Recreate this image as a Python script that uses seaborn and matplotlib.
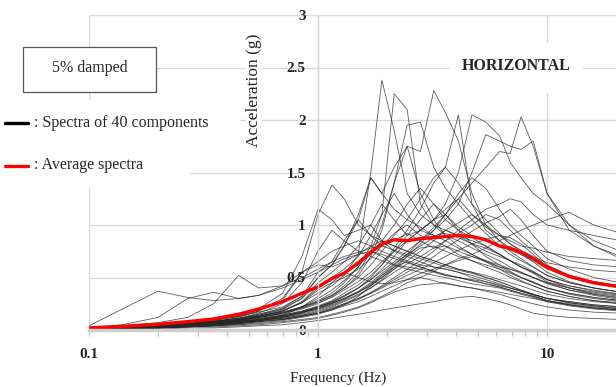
import matplotlib
matplotlib.use("Agg")
import matplotlib.pyplot as plt
from matplotlib.lines import Line2D
from matplotlib.patches import Rectangle
from matplotlib.ticker import FixedLocator, NullFormatter
import numpy as np
import pandas as pd
import seaborn as sns

# Frequency grid (Hz) shared by all response spectra
freq_hz = [0.1, 0.14, 0.2, 0.27, 0.35, 0.45, 0.55, 0.7, 0.85, 1.0, 1.15, 1.3, 1.5, 1.7, 1.9,
           2.15, 2.45, 2.8, 3.2, 3.6, 4.1, 4.7, 5.4, 6.2, 6.9, 7.7, 8.7, 10, 12.5, 16, 21]

# Spectral acceleration (g) of the 40 horizontal components, 5% damping
component_spectra = [
    [0.02,0.03,0.04,0.06,0.08,0.11,0.14,0.19,0.26, 0.35,0.42,0.52,0.72,1.50,2.38,1.90,1.30,1.10,1.00,0.95,0.90,0.85,0.80,0.72,0.66,0.60,0.55,0.48,0.40,0.34,0.30],
    [0.02,0.03,0.04,0.05,0.07,0.10,0.13,0.17,0.22, 0.28,0.35,0.45,0.60,0.80,1.10,2.25,2.10,1.20,1.00,0.90,0.85,0.78,0.72,0.66,0.60,0.55,0.50,0.45,0.38,0.33,0.29],
    [0.01,0.02,0.03,0.05,0.07,0.09,0.12,0.16,0.21, 0.27,0.33,0.42,0.55,0.75,1.00,1.40,1.75,1.70,2.28,2.07,1.80,1.30,1.00,0.85,0.78,0.72,0.65,0.55,0.46,0.40,0.36],
    [0.01,0.02,0.03,0.04,0.06,0.08,0.10,0.13,0.17, 0.22,0.27,0.32,0.40,0.48,0.58,0.70,0.85,0.95,1.05,1.20,1.50,2.05,1.98,1.85,1.60,1.45,1.30,1.20,1.00,0.85,0.75],
    [0.01,0.02,0.03,0.04,0.05,0.07,0.09,0.11,0.14, 0.18,0.22,0.27,0.33,0.40,0.48,0.58,0.70,0.82,0.95,1.10,1.25,1.40,1.55,1.70,1.68,2.03,1.75,1.30,1.00,0.80,0.68],
    [0.02,0.03,0.04,0.05,0.07,0.10,0.13,0.17,0.22, 0.27,0.33,0.40,0.50,0.62,0.75,0.90,1.05,1.25,1.45,1.55,2.05,1.20,0.95,0.85,0.75,0.68,0.60,0.52,0.45,0.40,0.36],
    [0.02,0.03,0.05,0.07,0.10,0.13,0.17,0.22,0.32, 0.50,0.62,0.80,1.05,1.45,1.30,1.55,1.75,1.30,1.05,0.90,0.80,0.72,0.65,0.58,0.52,0.47,0.42,0.37,0.32,0.28,0.25],
    [0.01,0.02,0.03,0.05,0.07,0.09,0.12,0.15,0.20, 0.25,0.32,0.40,0.52,0.70,0.95,1.40,1.95,1.98,1.55,1.35,1.20,1.05,0.92,0.80,0.72,0.66,0.60,0.52,0.45,0.40,0.36],
    [0.02,0.03,0.04,0.05,0.07,0.09,0.11,0.14,0.18, 0.22,0.27,0.33,0.40,0.48,0.56,0.65,0.75,0.85,0.95,1.05,1.20,1.50,1.86,1.80,1.75,1.72,1.80,1.30,0.95,0.80,0.70],
    [0.02,0.03,0.04,0.06,0.09,0.13,0.18,0.28,0.55, 1.10,1.38,1.25,1.00,0.90,0.85,0.80,0.75,0.70,0.66,0.62,0.58,0.55,0.50,0.46,0.42,0.38,0.34,0.30,0.26,0.23,0.20],
    [0.02,0.03,0.04,0.06,0.08,0.11,0.15,0.20,0.30, 0.50,0.62,0.80,1.10,1.45,1.30,1.15,1.05,0.98,0.90,0.85,0.78,0.72,0.66,0.60,0.55,0.50,0.45,0.40,0.34,0.30,0.27],
    [0.01,0.02,0.03,0.04,0.06,0.08,0.10,0.13,0.17, 0.21,0.26,0.32,0.40,0.50,0.62,0.78,0.95,1.15,1.40,1.55,1.40,1.20,1.05,0.92,0.82,0.75,0.68,0.60,0.52,0.46,0.42],
    [0.01,0.02,0.03,0.04,0.06,0.08,0.10,0.13,0.17, 0.20,0.24,0.29,0.36,0.44,0.52,0.62,0.72,0.85,0.98,1.10,1.30,1.45,1.35,1.15,1.00,0.90,0.80,0.68,0.58,0.50,0.45],
    [0.02,0.03,0.04,0.05,0.07,0.10,0.13,0.18,0.26, 0.40,0.48,0.55,0.62,0.72,0.85,1.00,1.20,1.35,1.20,1.05,0.95,0.88,0.80,0.72,0.66,0.60,0.55,0.48,0.42,0.38,0.34],
    [0.01,0.01,0.02,0.03,0.04,0.05,0.06,0.08,0.10, 0.12,0.15,0.18,0.22,0.27,0.32,0.38,0.45,0.50,0.56,0.62,0.68,0.72,0.78,0.85,0.90,0.95,1.00,1.05,1.12,1.00,0.92],
    [0.01,0.02,0.03,0.04,0.05,0.06,0.08,0.10,0.13, 0.16,0.20,0.25,0.30,0.36,0.42,0.50,0.58,0.66,0.75,0.85,0.95,1.05,1.15,1.20,1.25,1.22,1.10,1.00,0.95,0.90,0.85],
    [0.02,0.03,0.04,0.05,0.07,0.09,0.12,0.16,0.21, 0.26,0.31,0.38,0.46,0.55,0.65,0.75,0.85,0.95,1.05,1.15,1.25,1.10,0.98,0.90,0.85,0.80,0.78,0.74,0.70,0.68,0.66],
    [0.02,0.03,0.04,0.06,0.08,0.11,0.14,0.20,0.30, 0.45,0.55,0.65,0.80,1.00,1.20,1.05,0.90,0.95,1.05,1.10,0.95,0.82,0.70,0.62,0.56,0.50,0.45,0.40,0.35,0.31,0.28],
    [0.01,0.02,0.03,0.04,0.05,0.07,0.09,0.12,0.15, 0.19,0.23,0.28,0.34,0.40,0.47,0.55,0.63,0.70,0.78,0.85,0.92,1.00,1.10,1.05,0.95,0.85,0.75,0.62,0.52,0.45,0.41],
    [0.02,0.03,0.04,0.06,0.09,0.13,0.20,0.35,0.70, 1.15,1.05,0.90,0.95,1.00,0.85,0.75,0.70,0.65,0.60,0.58,0.55,0.50,0.46,0.42,0.40,0.37,0.34,0.30,0.26,0.23,0.21],
    [0.02,0.03,0.04,0.05,0.07,0.10,0.13,0.18,0.26, 0.38,0.45,0.50,0.58,0.68,0.80,0.92,1.00,0.90,0.85,0.80,0.75,0.70,0.66,0.62,0.58,0.54,0.50,0.45,0.40,0.36,0.33],
    [0.01,0.02,0.03,0.04,0.06,0.08,0.10,0.13,0.17, 0.21,0.25,0.30,0.36,0.42,0.50,0.58,0.66,0.75,0.85,0.95,0.90,0.82,0.75,0.70,0.66,0.62,0.56,0.48,0.42,0.37,0.34],
    [0.01,0.02,0.03,0.04,0.05,0.07,0.09,0.11,0.14, 0.17,0.21,0.25,0.30,0.35,0.40,0.46,0.52,0.58,0.64,0.70,0.76,0.82,0.86,0.90,0.88,0.82,0.72,0.60,0.52,0.46,0.42],
    [0.02,0.04,0.07,0.12,0.25,0.52,0.40,0.42,0.55, 0.65,0.75,0.80,0.85,0.80,0.75,0.70,0.66,0.62,0.60,0.58,0.55,0.52,0.48,0.44,0.40,0.37,0.34,0.30,0.27,0.24,0.22],
    [0.04,0.20,0.37,0.31,0.28,0.30,0.33,0.40,0.48, 0.55,0.62,0.68,0.72,0.75,0.72,0.68,0.64,0.60,0.56,0.53,0.50,0.47,0.44,0.41,0.38,0.35,0.32,0.28,0.25,0.22,0.20],
    [0.02,0.05,0.12,0.30,0.36,0.30,0.33,0.42,0.50, 0.58,0.65,0.70,0.74,0.78,0.80,0.76,0.72,0.68,0.64,0.60,0.57,0.54,0.50,0.46,0.42,0.38,0.34,0.30,0.27,0.24,0.22],
    [0.01,0.02,0.03,0.04,0.05,0.07,0.09,0.12,0.16, 0.22,0.26,0.30,0.36,0.43,0.50,0.60,0.70,0.78,0.80,0.75,0.70,0.66,0.62,0.58,0.54,0.50,0.46,0.40,0.35,0.31,0.28],
    [0.01,0.02,0.03,0.05,0.07,0.09,0.12,0.16,0.22, 0.30,0.38,0.47,0.60,0.75,0.70,0.62,0.58,0.55,0.52,0.50,0.47,0.44,0.42,0.40,0.37,0.34,0.31,0.27,0.23,0.20,0.18],
    [0.01,0.02,0.02,0.03,0.04,0.06,0.08,0.10,0.13, 0.16,0.19,0.23,0.27,0.32,0.37,0.42,0.48,0.54,0.58,0.62,0.66,0.70,0.65,0.60,0.58,0.55,0.50,0.44,0.38,0.34,0.31],
    [0.01,0.01,0.02,0.03,0.04,0.05,0.07,0.09,0.12, 0.15,0.19,0.24,0.32,0.42,0.52,0.60,0.65,0.60,0.56,0.52,0.50,0.48,0.46,0.43,0.40,0.37,0.33,0.28,0.24,0.21,0.19],
    [0.01,0.01,0.01,0.02,0.02,0.03,0.04,0.05,0.07, 0.09,0.11,0.13,0.15,0.17,0.19,0.21,0.23,0.25,0.27,0.29,0.31,0.32,0.30,0.27,0.24,0.20,0.16,0.14,0.12,0.11,0.10],
    [0.01,0.01,0.02,0.03,0.03,0.04,0.05,0.07,0.09, 0.11,0.14,0.17,0.21,0.26,0.31,0.36,0.40,0.43,0.44,0.45,0.42,0.40,0.37,0.34,0.31,0.28,0.25,0.22,0.19,0.17,0.16],
    [0.01,0.02,0.03,0.04,0.05,0.07,0.10,0.14,0.22, 0.32,0.45,0.55,0.50,0.46,0.44,0.45,0.48,0.50,0.47,0.44,0.42,0.40,0.38,0.36,0.34,0.32,0.30,0.27,0.24,0.21,0.19],
    [0.02,0.03,0.04,0.06,0.08,0.11,0.15,0.21,0.32, 0.55,0.65,0.85,1.05,0.90,0.80,0.85,0.92,0.85,0.78,0.80,0.72,0.66,0.60,0.55,0.50,0.46,0.42,0.37,0.32,0.28,0.26],
    [0.01,0.02,0.03,0.04,0.06,0.08,0.11,0.14,0.18, 0.23,0.28,0.35,0.43,0.52,0.62,0.75,0.90,1.05,1.20,1.10,0.98,0.90,0.85,0.80,0.76,0.72,0.66,0.58,0.50,0.44,0.40],
    [0.02,0.03,0.04,0.06,0.08,0.10,0.13,0.18,0.27, 0.42,0.50,0.58,0.70,0.90,1.10,1.30,1.10,0.95,0.90,0.92,0.88,0.82,0.78,0.72,0.66,0.60,0.54,0.46,0.40,0.35,0.32],
    [0.01,0.02,0.03,0.04,0.05,0.07,0.09,0.12,0.16, 0.20,0.25,0.30,0.37,0.45,0.54,0.63,0.72,0.80,0.88,0.95,1.02,1.10,1.00,0.90,0.82,0.76,0.70,0.64,0.60,0.57,0.55],
    [0.02,0.03,0.04,0.06,0.08,0.11,0.16,0.25,0.45, 0.75,0.95,0.85,0.75,0.70,0.66,0.62,0.60,0.58,0.55,0.52,0.50,0.47,0.44,0.41,0.38,0.35,0.32,0.28,0.24,0.21,0.19],
    [0.01,0.02,0.02,0.03,0.04,0.06,0.08,0.10,0.13, 0.16,0.20,0.24,0.29,0.35,0.41,0.48,0.55,0.62,0.70,0.78,0.86,0.94,1.02,1.08,1.15,1.05,0.90,0.75,0.66,0.62,0.60],
    [0.02,0.03,0.04,0.06,0.08,0.12,0.18,0.30,0.55, 0.62,0.60,0.65,0.72,0.80,0.85,0.80,0.75,0.70,0.66,0.62,0.58,0.55,0.52,0.48,0.45,0.42,0.38,0.34,0.30,0.27,0.25],
]

# Average spectrum of the 40 components (g)
average_spectrum = [0.02,0.035,0.055,0.08,0.105,0.15,0.20,0.27,0.35, 0.41,0.49,0.54,0.64,0.74,0.82,0.86,0.85,0.87,0.88,0.89,0.90,0.89,0.86,0.80,0.78,0.74,0.68,0.60,0.51,0.45,0.41]

x_ticks = [0.1, 1, 10]
x_tick_labels = ["0.1", "1", "10"]
y_ticks = [0, 0.5, 1, 1.5, 2, 2.5, 3]
y_tick_labels = ["0", "0.5", "1", "1.5", "2", "2.5", "3"]

for spec in component_spectra:
    assert len(spec) == len(freq_hz)
assert len(average_spectrum) == len(freq_hz)

records = [
    {"component": i + 1, "freq": f, "acc": a}
    for i, spec in enumerate(component_spectra)
    for f, a in zip(freq_hz, spec)
]
df = pd.DataFrame(records)

sns.set_theme(style="white")
plt.rcParams["font.family"] = ["Liberation Serif", "DejaVu Serif"]

W, H = 616, 387
fig = plt.figure(figsize=(W / 100, H / 100), dpi=100)
ax = fig.add_axes([89 / W, 57 / H, 527 / W, 315 / H])

GRID = "#d9d9d9"

sns.lineplot(data=df, x="freq", y="acc", units="component", estimator=None,
             color="#262626", linewidth=0.6, alpha=0.75, ax=ax, legend=False)
sns.lineplot(x=freq_hz, y=average_spectrum, color="#ff0000", linewidth=2.4,
             ax=ax, legend=False)

ax.set_xscale("log")
ax.set_xlim(0.1, 20)
ax.set_ylim(0, 3)

ax.set_xticks(x_ticks, x_tick_labels)
minor = [k * 10.0 ** e for e in (-1, 0, 1) for k in range(2, 10)]
ax.xaxis.set_minor_locator(FixedLocator(minor))
ax.xaxis.set_minor_formatter(NullFormatter())
ax.set_yticks(y_ticks, y_tick_labels)

ax.grid(True, which="major", axis="both", color=GRID, linewidth=1.0)
ax.set_axisbelow(True)

for side in ("top", "right"):
    ax.spines[side].set_visible(False)
ax.spines["left"].set_position(("data", 1))
ax.spines["left"].set_color(GRID)
ax.spines["left"].set_linewidth(1.0)
ax.spines["bottom"].set_color("#cfcfcf")
ax.spines["bottom"].set_linewidth(2.5)

ax.tick_params(axis="x", which="both", direction="out", length=4, width=1,
               color="#c8c8c8", pad=9, labelsize=11, bottom=True)
ax.tick_params(axis="y", length=0, pad=9, labelsize=11, left=True)
for lbl in ax.get_xticklabels() + ax.get_yticklabels():
    lbl.set_fontweight("bold")

ax.set_xlabel("Frequency (Hz)", fontsize=11)
ax.xaxis.set_label_coords((338 - 89) / 527, (330 - 378) / 315)
ax.xaxis.label.set_va("center")
ax.set_ylabel("Acceleration (g)", fontsize=12.5,
              bbox=dict(facecolor="white", edgecolor="none", pad=0))
ax.yaxis.set_label_coords((254 - 89) / 527, (330 - 90) / 315)
ax.yaxis.label.set_va("center")
ax.yaxis.label.set_ha("center")


def fx(px):
    return px / W


def fy(py):
    return 1 - py / H


# Panel annotation
fig.add_artist(Rectangle((fx(450), fy(93)), 133 / W, 50 / H, transform=fig.transFigure,
                         facecolor="white", edgecolor="none", zorder=2))
fig.text(fx(516), fy(66), "HORIZONTAL", ha="center", va="center",
         fontsize=11.5, fontweight="bold", zorder=3)

# Damping box
fig.add_artist(Rectangle((fx(23), fy(92)), 133 / W, 45 / H, transform=fig.transFigure,
                         facecolor="white", edgecolor="#555555", linewidth=0.9, zorder=2))
fig.text(fx(90), fy(68), "5% damped", ha="center", va="center", fontsize=11.5, zorder=3)

# Legend entries
fig.add_artist(Rectangle((0, fy(148)), 240 / W, 48 / H, transform=fig.transFigure,
                         facecolor="white", edgecolor="none", zorder=2))
fig.add_artist(Rectangle((0, fy(187)), 190 / W, 39 / H, transform=fig.transFigure,
                         facecolor="white", edgecolor="none", zorder=2))
fig.add_artist(Line2D([fx(5), fx(28)], [fy(123), fy(123)], transform=fig.transFigure,
                      color="black", linewidth=2.4, zorder=3))
fig.text(fx(34), fy(123), ": Spectra of 40 components", ha="left", va="center",
         fontsize=11.5, zorder=3)
fig.add_artist(Line2D([fx(5), fx(28)], [fy(166), fy(166)], transform=fig.transFigure,
                      color="#ff0000", linewidth=2.4, zorder=3))
fig.text(fx(34), fy(165), ": Average spectra", ha="left", va="center",
         fontsize=11.5, zorder=3)

fig.savefig("out.png", dpi=100)
